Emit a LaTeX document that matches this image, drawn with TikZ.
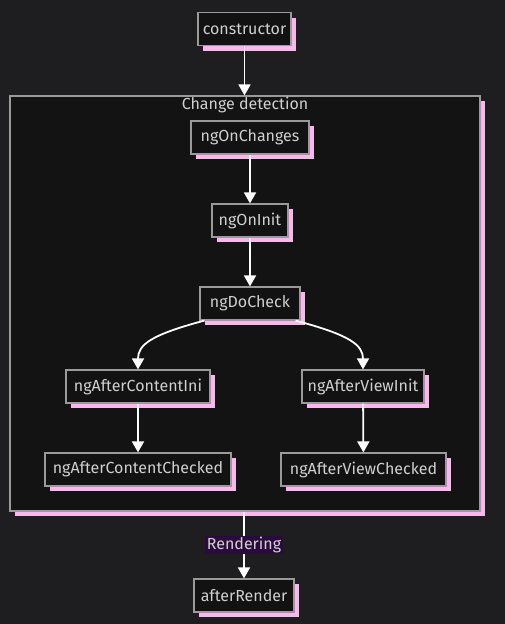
\documentclass[tikz,border=0pt]{standalone}
\usepackage{fontspec}
\setmainfont{Fira Sans}
\usetikzlibrary{shadows,arrows.meta}
\definecolor{bg}{HTML}{1E1E21}
\definecolor{nodefill}{HTML}{121212}
\definecolor{cl}{HTML}{131313}
\definecolor{bord}{HTML}{9A9A9A}
\definecolor{shad}{HTML}{FBB6F0}
\definecolor{txt}{HTML}{D0D0D0}
\definecolor{lbl}{HTML}{2B0B3D}
\begin{document}
\begin{tikzpicture}[x=1pt,y=-1pt,
 lbltext/.style={text=txt, font=\fontsize{16}{18}\selectfont},
 box/.style={draw=bord, line width=1.2pt, fill=nodefill, lbltext, minimum height=33pt, inner sep=0pt, drop shadow={shadow xshift=5pt, shadow yshift=-5pt, fill=shad, opacity=1}},
 arr/.style={draw=white, line width=1.8pt, -{Triangle[width=12pt,length=11pt]}}]
\fill[bg] (0,0) rectangle (505,624);
\node[box, minimum width=470pt, minimum height=415pt, fill=cl] (cd) at (245,303.5) {};
\node[lbltext] (cdt) at (245,105) {Change detection};
\node[box, minimum width=93pt] (con) at (244.5,29) {constructor};
\node[box, minimum width=118pt] (oc) at (250,137.5) {ngOnChanges};
\node[box, minimum width=76pt] (oi) at (250,220.5) {ngOnInit};
\node[box, minimum width=100pt] (dc) at (250,303.5) {ngDoCheck};
\node[box, minimum width=144pt] (aci) at (138,386.5) {ngAfterContentIni};
\node[box, minimum width=122pt] (avi) at (363,386.5) {ngAfterViewInit};
\node[box, minimum width=186pt] (acc) at (138,469.5) {ngAfterContentChecked};
\node[box, minimum width=165pt] (avc) at (363.5,469.5) {ngAfterViewChecked};
\node[box, minimum width=100pt] (ar) at (244,595.5) {afterRender};
\draw[arr] (con.south) -- (con.south |- cd.north);
\draw[arr] (oc) -- (oi);
\draw[arr] (oi) -- (dc);
\draw[arr] ([xshift=5pt]dc.south west) .. controls (150,335) and (138,345) .. (aci.north);
\draw[arr] ([xshift=-5pt]dc.south east) .. controls (350,335) and (363,345) .. (avi.north);
\draw[arr] (aci) -- (acc);
\draw[arr] (avi) -- (avc);
\draw[arr] (cd.south -| ar.north) -- node[fill=lbl, lbltext, inner sep=1.5pt, pos=0.5] (rl) {Rendering} (ar.north);
\end{tikzpicture}
\end{document}
